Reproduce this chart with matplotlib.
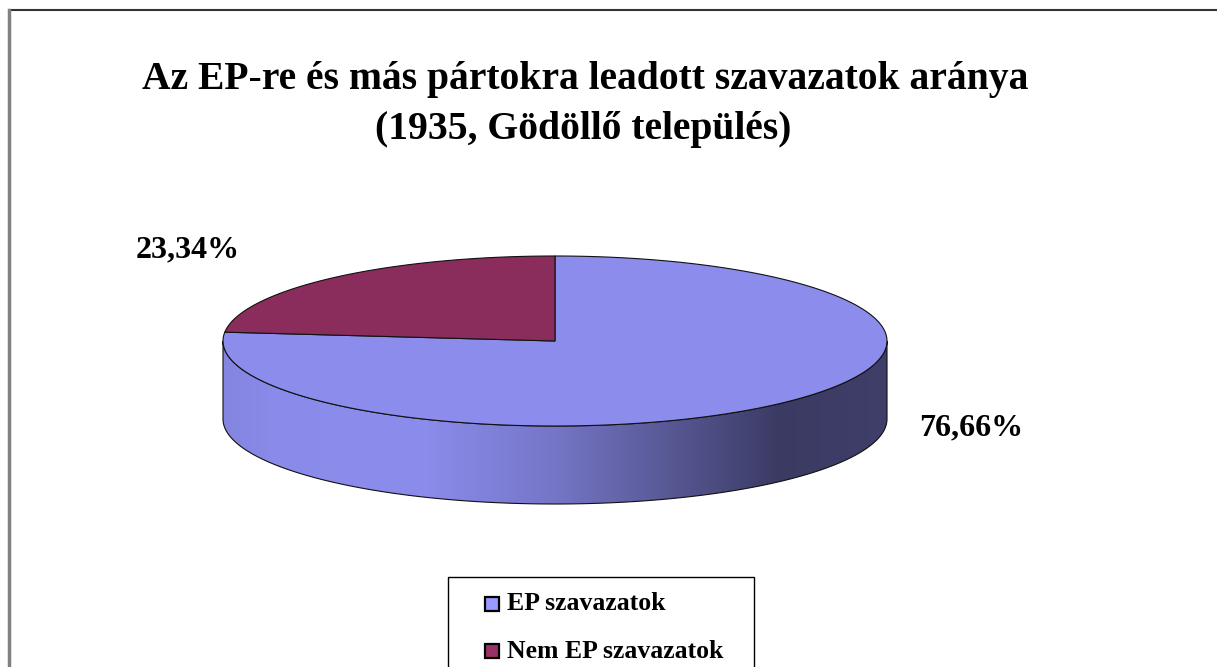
import numpy as np
import matplotlib.pyplot as plt
from matplotlib.patches import Polygon, Rectangle

# Data
labels = ['EP szavazatok', 'Nem EP szavazatok']
values = [76.66, 23.34]
pct_labels = ['76,66%', '23,34%']
colors = ['#8B8CEC', '#8B2D5C']
legend_colors = ['#9999FF', '#993366']

plt.rcParams['font.family'] = ['Liberation Serif', 'DejaVu Serif']

fig = plt.figure(figsize=(12.17, 6.67), dpi=100)
ax = fig.add_axes([0, 0, 1, 1])
ax.set_xlim(0, 1217)
ax.set_ylim(667, 0)
ax.axis('off')

# chart frame (only top and left visible)
ax.plot([10, 1217], [10, 10], color='#333333', lw=1.5)
ax.plot([9, 9], [10, 667], color='#808080', lw=2.5)

# pie geometry (pixels)
cx, cy, rx, ry, depth = 555, 341, 332, 85, 78


def arc(t0, t1, n=200, dy=0):
    t = np.radians(np.linspace(t0, t1, n))
    return np.column_stack([cx + rx * np.cos(t), cy - ry * np.sin(t) + dy])


# slice angles: clockwise from 12 o'clock
total = sum(values)
starts, ends = [], []
cum = 0
for v in values:
    starts.append(90 - cum / total * 360)
    cum += v
    ends.append(90 - cum / total * 360)

# shading along the side wall
xs = np.linspace(cx - rx, cx + rx, 400)
shade = np.interp((xs - (cx - rx)) / (2 * rx),
                  [0, 0.08, 0.3, 0.5, 0.68, 0.84, 1.0],
                  [0.95, 0.99, 1.0, 0.84, 0.62, 0.42, 0.45])

# side wall, front half only
for s, e, c in zip(starts, ends, colors):
    for lo, hi in [(-180, 0), (180, 360), (-540, -360)]:
        a0 = max(e, lo)
        a1 = min(s, hi)
        if a1 <= a0:
            continue
        top = arc(a0, a1)
        bot = arc(a1, a0, dy=depth)
        poly = Polygon(np.vstack([top, bot]), closed=True, facecolor='none',
                       edgecolor='#111111', lw=0.8, zorder=3)
        ax.add_patch(poly)
        rgb = np.array(plt.matplotlib.colors.to_rgb(c))
        img = (shade[:, None] * rgb[None, :])[None, :, :]
        im = ax.imshow(img, extent=[cx - rx, cx + rx, cy + ry + depth + 2, cy - 2],
                       aspect='auto', zorder=2, interpolation='bilinear')
        im.set_clip_path(poly)

# top face
for s, e, c in zip(starts, ends, colors):
    pts = np.vstack([[cx, cy], arc(s, e)])
    ax.add_patch(Polygon(pts, closed=True, facecolor=c, edgecolor='#111111',
                         lw=0.8, zorder=4))

# percentage labels
ax.text(971, 428, pct_labels[0], fontsize=23, fontweight='bold',
        ha='center', va='center', zorder=5)
ax.text(188, 250, pct_labels[1], fontsize=23, fontweight='bold',
        ha='center', va='center', zorder=5)

# title
ax.text(585, 80, 'Az EP-re és más pártokra leadott szavazatok aránya',
        fontsize=28.5, fontweight='bold', ha='center', va='center')
ax.text(583, 130, '(1935, Gödöllő település)',
        fontsize=28.5, fontweight='bold', ha='center', va='center')

# legend (box runs past the bottom edge)
ax.add_patch(Rectangle((448, 577), 306, 120, facecolor='white',
                       edgecolor='black', lw=1.0, zorder=5))
for i, (lab, c) in enumerate(zip(labels, legend_colors)):
    y = 604 + i * 47
    ax.add_patch(Rectangle((485, y - 7), 14, 14, facecolor=c,
                           edgecolor='black', lw=1.6, zorder=6))
    ax.text(507, y, lab, fontsize=18.5, fontweight='bold',
            ha='left', va='center', zorder=6)

fig.savefig('out.png', dpi=100)
